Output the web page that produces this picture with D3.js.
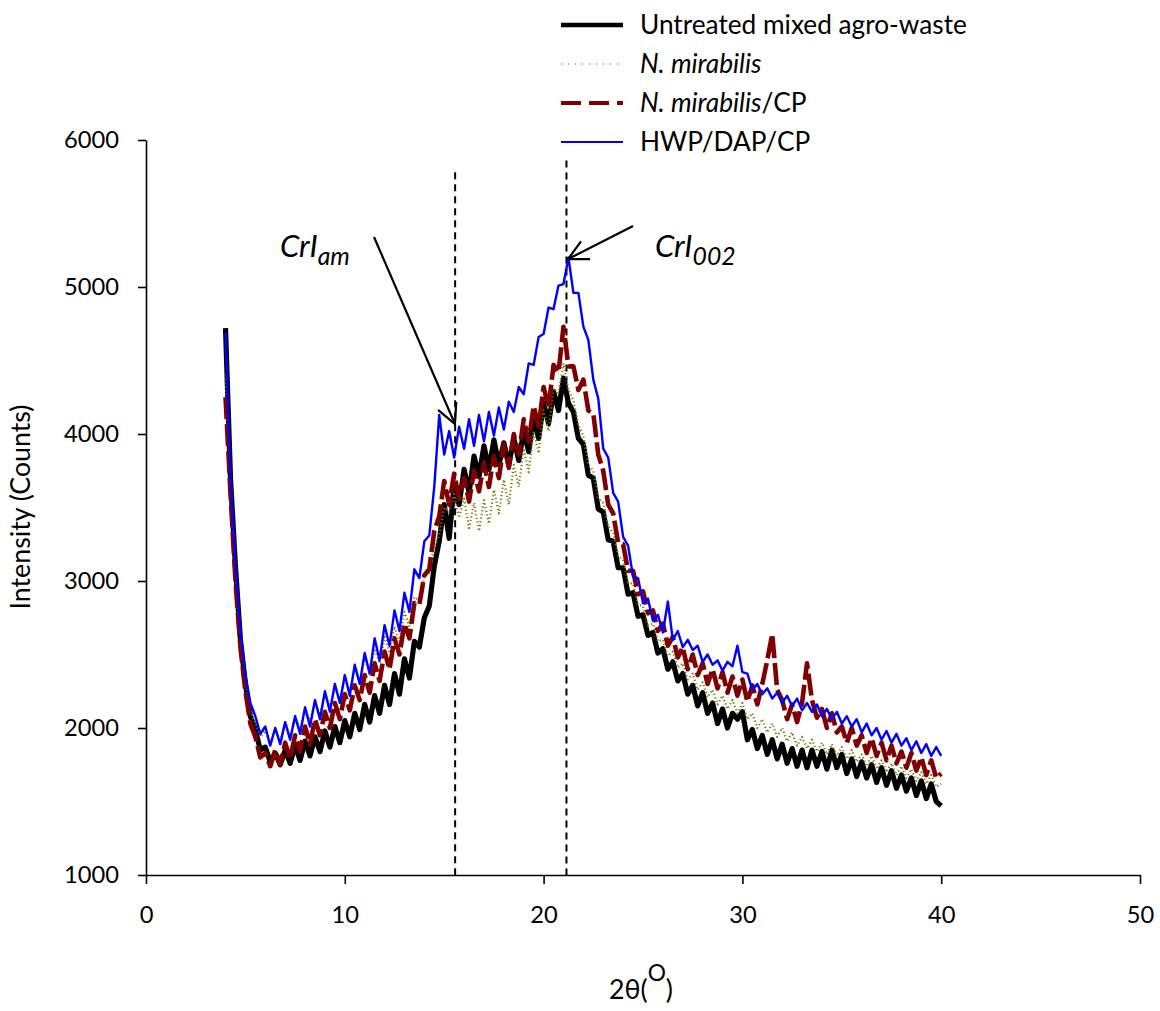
<!DOCTYPE html>
<html>
<head>
<meta charset="utf-8">
<script src="https://cdn.jsdelivr.net/npm/d3@7"></script>
<style>
body { margin: 0; background: #fff; }
svg { display: block; font-family: Lato, "Open Sans", sans-serif; }
</style>
</head>
<body>
<script>
// 2theta grid of the scan (degrees), one reading every 0.25
var twoTheta = d3.range(4, 40.001, 0.25);

// intensities (counts), 4 readings per degree
var untreated = [
	4720, 3700, 3100, 2600,
	2300, 2080, 1990, 1850,
	1870, 1770, 1830, 1750,
	1850, 1760, 1880, 1780,
	1910, 1810, 1940, 1840,
	1980, 1870, 2010, 1900,
	2050, 1940, 2100, 1990,
	2160, 2040, 2220, 2100,
	2290, 2160, 2370, 2230,
	2470, 2340, 2590, 2550,
	2750, 2830, 3100, 3270,
	3520, 3290, 3660, 3520,
	3760, 3600, 3850, 3710,
	3920, 3760, 3960, 3790,
	3940, 3790, 3970, 3820,
	4020, 3880, 4110, 3970,
	4210, 4070, 4290, 4160,
	4380, 4210, 4150, 3970,
	3930, 3720, 3700, 3490,
	3470, 3280, 3270, 3090,
	3090, 2910, 2920, 2760,
	2770, 2630, 2650, 2510,
	2540, 2400, 2450, 2320,
	2370, 2230, 2290, 2150,
	2240, 2100, 2170, 2030,
	2130, 2000, 2100, 2060,
	2110, 1920, 1990, 1860,
	1950, 1820, 1920, 1790,
	1890, 1760, 1860, 1740,
	1850, 1730, 1850, 1740,
	1840, 1720, 1850, 1730,
	1820, 1690, 1790, 1670,
	1770, 1660, 1750, 1630,
	1730, 1610, 1710, 1590,
	1680, 1570, 1660, 1540,
	1640, 1520, 1620, 1500,
	1470
];

var mirabilis = [
	4400, 3650, 3050, 2600,
	2300, 2120, 2030, 1940,
	1980, 1890, 2000, 1910,
	2040, 1940, 2080, 1990,
	2140, 2040, 2180, 2090,
	2240, 2140, 2280, 2190,
	2350, 2250, 2400, 2310,
	2480, 2370, 2540, 2440,
	2620, 2510, 2690, 2590,
	2790, 2690, 2890, 2870,
	3030, 3050, 3240, 3310,
	3500, 3470, 3590, 3430,
	3560, 3360, 3530, 3340,
	3550, 3390, 3620, 3460,
	3690, 3520, 3790, 3640,
	3900, 3740, 4020, 3870,
	4160, 4020, 4310, 4280,
	4480, 4300, 4230, 4060,
	3990, 3790, 3750, 3560,
	3530, 3370, 3330, 3170,
	3140, 2990, 2980, 2840,
	2830, 2700, 2710, 2590,
	2600, 2490, 2520, 2410,
	2440, 2330, 2370, 2260,
	2310, 2210, 2260, 2160,
	2220, 2130, 2190, 2100,
	2170, 2060, 2100, 2000,
	2060, 1970, 2030, 1940,
	2000, 1910, 1970, 1880,
	1940, 1860, 1920, 1840,
	1900, 1820, 1890, 1810,
	1870, 1790, 1850, 1770,
	1820, 1740, 1810, 1720,
	1780, 1700, 1760, 1680,
	1740, 1660, 1720, 1640,
	1700, 1620, 1680, 1600,
	1620
];

var mirabilisCP = [
	4250, 3600, 3000, 2550,
	2250, 2030, 1940, 1800,
	1830, 1740, 1850, 1750,
	1900, 1790, 1950, 1840,
	2010, 1890, 2060, 1950,
	2110, 2000, 2170, 2060,
	2230, 2120, 2290, 2190,
	2360, 2240, 2440, 2320,
	2520, 2400, 2610, 2500,
	2710, 2610, 2850, 2840,
	3040, 3080, 3340, 3440,
	3680, 3520, 3730, 3560,
	3700, 3540, 3750, 3610,
	3800, 3640, 3850, 3700,
	3930, 3770, 4000, 3860,
	4100, 3950, 4190, 4050,
	4320, 4180, 4470, 4420,
	4730, 4460, 4460, 4300,
	4370, 4160, 4140, 3860,
	3750, 3520, 3460, 3260,
	3250, 3070, 3070, 2910,
	2930, 2780, 2800, 2660,
	2710, 2560, 2620, 2480,
	2550, 2400, 2500, 2360,
	2440, 2300, 2400, 2270,
	2380, 2240, 2350, 2220,
	2330, 2180, 2290, 2160,
	2300, 2460, 2640, 2260,
	2190, 2060, 2160, 2040,
	2170, 2440, 2190, 2070,
	2130, 2000, 2100, 1970,
	2010, 1900, 2000, 1880,
	1950, 1830, 1930, 1810,
	1900, 1780, 1880, 1760,
	1840, 1730, 1830, 1710,
	1800, 1680, 1780, 1660,
	1690
];

var hwpDapCp = [
	4690, 3720, 3120, 2660,
	2360, 2170, 2080, 1960,
	2010, 1880, 2000, 1890,
	2040, 1920, 2080, 1960,
	2140, 2010, 2190, 2060,
	2250, 2110, 2300, 2170,
	2360, 2220, 2430, 2300,
	2510, 2370, 2610, 2460,
	2700, 2560, 2800, 2660,
	2920, 2790, 3080, 3020,
	3270, 3310, 3640, 4130,
	3860, 4020, 3840, 4050,
	3900, 4100, 3920, 4130,
	3950, 4150, 3990, 4180,
	4030, 4220, 4150, 4320,
	4270, 4480, 4470, 4660,
	4680, 4860, 4850, 5010,
	5020, 5200, 4960, 4960,
	4730, 4640, 4370, 4240,
	3900, 3840, 3600, 3540,
	3300, 3240, 3030, 3020,
	2850, 2880, 2730, 2770,
	2650, 2860, 2600, 2660,
	2550, 2600, 2530, 2560,
	2450, 2500, 2430, 2460,
	2390, 2450, 2420, 2560,
	2380, 2370, 2260, 2300,
	2230, 2270, 2200, 2240,
	2170, 2220, 2150, 2200,
	2120, 2170, 2110, 2160,
	2080, 2130, 2060, 2110,
	2030, 2080, 2010, 2060,
	1970, 2030, 1950, 2000,
	1920, 1980, 1900, 1960,
	1880, 1930, 1850, 1910,
	1830, 1890, 1810, 1870,
	1810
];

var seriesNames = ["Untreated mixed agro-waste", "N. mirabilis", "N. mirabilis/CP", "HWP/DAP/CP"];
var xTicks = [0, 10, 20, 30, 40, 50];
var yTicks = [1000, 2000, 3000, 4000, 5000, 6000];

// peak markers (2theta, top of dashed line in counts)
var peakLines = [[15.55, 5780], [21.15, 5860]];
// annotation arrows: [from x, from y, to x, to y] in data units
var arrows = [[11.47, 5340, 15.54, 4068], [24.5, 5415, 21.23, 5190]];
var arrowLabels = [["CrI", "am", 6.74, 5204], ["CrI", "002", 25.6, 5204]];

var W = 1160, H = 1011;
var margin = {top: 140, right: 20, bottom: 136, left: 146};
var width = W - margin.left - margin.right,
	height = H - margin.top - margin.bottom;

var svg = d3.select("body").append("svg")
	.attr("width", W)
	.attr("height", H);

// pick font sizes so the text spans what it spans in the figure
function fitFont(str, target) {
	var t = svg.append("text")
		.style("font-size", "100px")
		.text(str);
	var w = t.node().getComputedTextLength();
	t.remove();
	return 100 * target / w;
}
var legendFont = fitFont("Untreated mixed agro-waste", 327);
var tickFont = fitFont("6000", 55);
var titleFont = fitFont("Intensity (Counts)", 205);
var noteFont = legendFont * 1.18;

var xScale = d3.scaleLinear().domain([0, 50]).range([0, width]);
var yScale = d3.scaleLinear().domain([1000, 6000]).range([height, 0]);

var g = svg.append("g")
	.attr("transform", "translate(" + margin.left + "," + margin.top + ")");

// axes
var xAxis = g.append("g")
	.attr("transform", "translate(0," + height + ")")
	.call(d3.axisBottom(xScale).tickValues(xTicks).tickFormat(d3.format("d"))
		.tickSize(9).tickSizeOuter(0).tickPadding(22));
var yAxis = g.append("g")
	.call(d3.axisLeft(yScale).tickValues(yTicks).tickFormat(d3.format("d"))
		.tickSize(8).tickSizeOuter(0).tickPadding(19));

[xAxis, yAxis].forEach(function(a) {
	a.select(".domain").attr("stroke", "#000").attr("stroke-width", 1.6);
	a.selectAll(".tick line").attr("stroke", "#000").attr("stroke-width", 1.6);
	a.selectAll("text")
		.attr("fill", "#000")
		.style("font-family", "Lato, 'Open Sans', sans-serif")
		.style("font-size", tickFont + "px");
});

// dashed peak lines
g.selectAll(".peak")
	.data(peakLines)
	.enter().append("line")
	.attr("class", "peak")
	.attr("x1", function(d) { return xScale(d[0]); })
	.attr("x2", function(d) { return xScale(d[0]); })
	.attr("y1", function(d) { return yScale(d[1]); })
	.attr("y2", yScale(1000))
	.attr("stroke", "#000")
	.attr("stroke-width", 2)
	.attr("stroke-dasharray", "7,5");

var styles = [
	{color: "#000000", width: 5.2, dash: null},
	{color: "#7a7a08", width: 2.2, dash: "1.2,2.5"},
	{color: "#800000", width: 4.6, dash: "22,5"},
	{color: "#0000ff", width: 2.4, dash: null}
];
var allSeries = [untreated, mirabilis, mirabilisCP, hwpDapCp];

var line = d3.line()
	.x(function(d, i) { return xScale(twoTheta[i]); })
	.y(function(d) { return yScale(d); });

allSeries.forEach(function(vals, k) {
	g.append("path")
		.datum(vals)
		.attr("fill", "none")
		.attr("stroke", styles[k].color)
		.attr("stroke-width", styles[k].width)
		.attr("stroke-dasharray", styles[k].dash)
		.attr("stroke-linejoin", "round")
		.attr("d", line);
});

// arrows with open heads
arrows.forEach(function(a) {
	var x1 = xScale(a[0]), y1 = yScale(a[1]), x2 = xScale(a[2]), y2 = yScale(a[3]);
	g.append("line")
		.attr("x1", x1).attr("y1", y1).attr("x2", x2).attr("y2", y2)
		.attr("stroke", "#000").attr("stroke-width", 2.2);
	var ang = Math.atan2(y2 - y1, x2 - x1), len = 22, spread = 0.47;
	var p1 = [x2 - len * Math.cos(ang - spread), y2 - len * Math.sin(ang - spread)];
	var p2 = [x2 - len * Math.cos(ang + spread), y2 - len * Math.sin(ang + spread)];
	g.append("path")
		.attr("d", "M" + p1 + "L" + x2 + "," + y2 + "L" + p2)
		.attr("fill", "none").attr("stroke", "#000").attr("stroke-width", 2.2);
});

arrowLabels.forEach(function(l) {
	var t = g.append("text")
		.attr("x", xScale(l[2]))
		.attr("y", yScale(l[3]))
		.style("font-style", "italic")
		.style("font-size", noteFont + "px");
	t.append("tspan").text(l[0]);
	t.append("tspan")
		.attr("dy", noteFont * 0.25)
		.style("font-size", (noteFont * 0.8) + "px")
		.text(l[1]);
});

// axis titles
svg.append("text")
	.attr("transform", "translate(30,507) rotate(-90)")
	.attr("text-anchor", "middle")
	.style("font-size", titleFont + "px")
	.text("Intensity (Counts)");

var xt = svg.append("text")
	.attr("x", 641)
	.attr("y", 999)
	.attr("text-anchor", "middle")
	.style("font-size", titleFont + "px");
xt.append("tspan").text("2\u03b8(");
xt.append("tspan").attr("dy", -18).style("font-size", (titleFont * 0.85) + "px").text("O");
xt.append("tspan").attr("dy", 18).text(")");

// legend
var legendY = [25, 64, 103, 142];
var legend = svg.append("g");
seriesNames.forEach(function(name, k) {
	var y = legendY[k];
	legend.append("line")
		.attr("x1", 561).attr("x2", 623)
		.attr("y1", y).attr("y2", y)
		.attr("stroke", k == 1 ? "#b8b84a" : styles[k].color)
		.attr("stroke-width", k == 0 ? 4.5 : (k == 1 ? 2 : (k == 2 ? 4 : 2.2)))
		.attr("stroke-dasharray", k == 1 ? "1,6" : (k == 2 ? "20,8" : null));
	var t = legend.append("text")
		.attr("x", 640)
		.attr("y", y)
		.attr("dy", "0.35em")
		.style("font-size", legendFont + "px");
	if (k == 1 || k == 2) {
		t.append("tspan").style("font-style", "italic").text("N. mirabilis");
		if (k == 2) t.append("tspan").text("/CP");
	} else {
		t.text(name);
	}
});
</script>
</body>
</html>
